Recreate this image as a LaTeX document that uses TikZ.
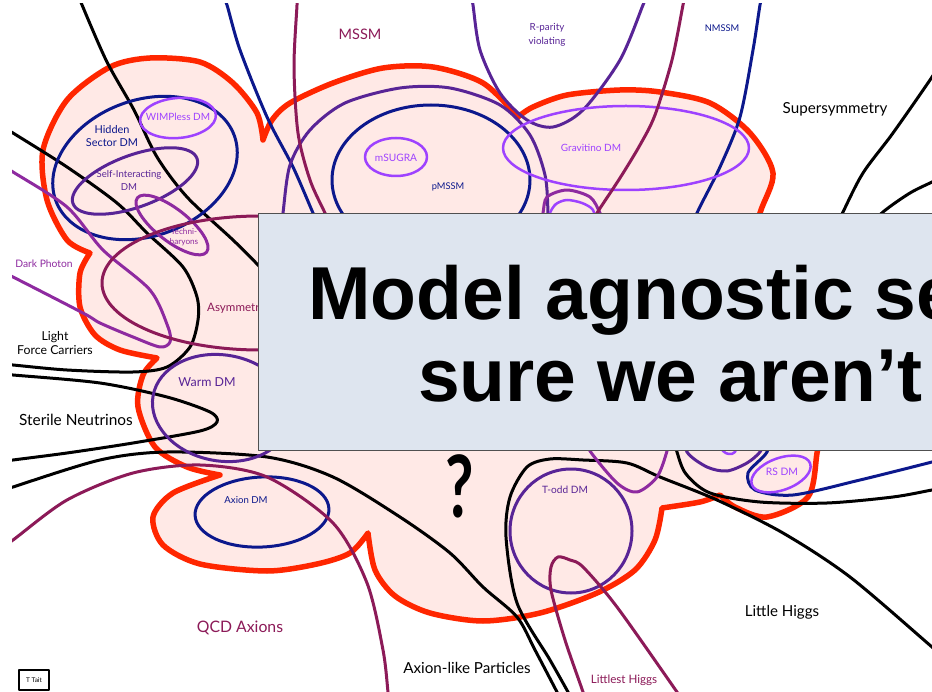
\documentclass[tikz,border=0pt]{standalone}
\usepackage{fontspec}
\setmainfont{Lato}
\newfontfamily\boxfont{Liberation Sans}
\definecolor{redline}{RGB}{255,38,0}
\definecolor{blobfill}{RGB}{255,233,230}
\definecolor{navyc}{RGB}{12,24,140}
\definecolor{purplec}{RGB}{88,36,150}
\definecolor{violetc}{RGB}{158,66,255}
\definecolor{magentac}{RGB}{142,42,160}
\definecolor{maroonc}{RGB}{140,26,88}
\definecolor{boxfill}{RGB}{222,229,239}
\definecolor{boxline}{RGB}{80,80,80}
\tikzset{
  curve/.style={line width=3pt},
  blk/.style={curve, draw=black},
  nav/.style={curve, draw=navyc},
  pur/.style={curve, draw=purplec},
  vio/.style={line width=2.5pt, draw=violetc},
  mag/.style={curve, draw=magentac},
  mar/.style={curve, draw=maroonc},
  lab/.style={inner sep=0pt, align=center},
  fs/.style={font=\fontsize{#1}{13}\selectfont},
  big/.style={font=\fontsize{#1}{14}\selectfont},
}
\begin{document}
\begin{tikzpicture}[x=1pt,y=-1pt,line join=round,line cap=round]
\useasboundingbox (0,0) rectangle (932,692);
\fill[white] (0,0) rectangle (932,692);
\begin{scope}
\clip (12,4) rectangle (932,692);
% ---------- blob ----------
\draw[fill=blobfill, draw=redline, line width=5.5pt]
  plot[smooth] coordinates {(90,253) (67,240) (47,200) (43,150) (67,100) (110,67) (150,58) (200,62) (233,83) (257,113) (263,140)}
  -- plot[smooth] coordinates {(263,140) (272,120) (290,103) (333,83) (383,68) (433,67) (483,83) (518,117)}
  -- plot[smooth] coordinates {(518,117) (533,107) (567,95) (620,90) (660,92) (710,103) (750,133) (773,173) (760,213) (748,260) (765,330) (805,390) (820,430) (817,453) (808,497) (767,517) (735,507) (720,495)}
  -- plot[smooth] coordinates {(720,495) (700,502) (662,508)}
  -- plot[smooth] coordinates {(662,508) (655,540) (635,570) (597,593) (540,613) (483,621) (430,613) (395,596) (375,570) (368,533)}
  -- plot[smooth] coordinates {(368,533) (350,553) (317,564) (267,571) (200,564) (163,545) (153,517) (173,493) (220,475)}
  -- plot[smooth] coordinates {(220,475) (187,467) (155,447) (138,407) (143,375) (157,358)}
  -- plot[smooth] coordinates {(157,358) (120,350) (95,335) (80,307) (80,273) (90,253)}
  -- cycle;
% ---------- black ----------
\draw[blk] plot[smooth] coordinates {(80,0) (106,60) (134,110) (157,157) (187,197) (233,240) (258,265) (290,300)};
\draw[blk] plot[smooth] coordinates {(0,125) (13,133) (67,167) (117,203) (147,233) (183,267) (197,297) (198,320) (190,347) (167,367) (133,372) (67,370) (13,365) (0,364)};
\draw[blk] plot[smooth] coordinates {(0,374) (13,375) (100,383) (167,397) (210,412) (217,422) (200,431) (133,443) (67,453) (13,460) (0,462)};
\draw[blk] plot[smooth] coordinates {(0,492) (13,487) (100,460) (167,452) (267,457) (333,477) (400,517) (450,553) (483,587) (517,617) (535,650) (557,692) (561,700)};
\draw[blk] plot[smooth] coordinates {(572,700) (568,692) (550,660) (517,603) (506,537) (510,497) (527,467) (550,459) (583,460) (627,463) (660,477) (717,500) (783,533) (850,577) (932,647) (945,658)};
\draw[blk] plot[smooth] coordinates {(672,430) (677,452) (686,474) (710,493) (760,502) (827,503) (893,497) (932,490) (945,488)};
\draw[blk] plot[smooth] coordinates {(945,55) (932,77) (893,133) (863,173) (843,212) (830,240)};
\draw[blk] plot[smooth] coordinates {(945,175) (932,182) (910,193) (883,212) (860,235)};
% ---------- navy ----------
\draw[nav] plot[smooth] coordinates {(224,0) (227,5) (240,50) (267,117) (293,167) (313,213) (325,240)};
\draw[nav] plot[smooth] coordinates {(762,0) (760,5) (753,50) (740,117) (720,167) (697,213) (690,235)};
\draw[nav, rotate around={20:(145,168)}] (145,168) ellipse [x radius=95, y radius=68];
\draw[nav] (431,180) ellipse [x radius=99, y radius=75];
\draw[nav, rotate around={3:(262,512)}] (262,512) ellipse [x radius=67, y radius=35];
\draw[nav] plot[smooth] coordinates {(770,430) (767,452) (748,473) (755,490) (793,495) (860,480) (932,462) (945,458)};
% ---------- purple ----------
\draw[pur] plot[smooth] coordinates {(472,0) (473,5) (480,50) (500,93) (527,120) (553,127) (583,110) (620,60) (643,5) (645,0)};
\draw[pur] plot[smooth] coordinates {(280,240) (283,213) (290,165) (310,130) (345,103) (400,88) (450,88) (500,105) (530,135) (545,175) (548,213) (548,240)};
\draw[pur, rotate around={20:(135,181)}] (135,181) ellipse [x radius=66, y radius=26];
\draw[pur, rotate around={-10:(222,408)}] (222,408) ellipse [x radius=70, y radius=53];
\draw[pur] (571,531) ellipse [x radius=61, y radius=62];
\draw[pur] plot[smooth] coordinates {(685,430) (687,452) (707,467) (727,471) (747,463) (760,452) (765,440)};
% ---------- violet ----------
\draw[vio, rotate around={5:(178,118)}] (178,118) ellipse [x radius=38, y radius=20];
\draw[vio] (396,157) ellipse [x radius=31, y radius=19];
\draw[vio] (626,148) ellipse [x radius=123, y radius=42];
\draw[vio, rotate around={20:(781,474)}] (781,474) ellipse [x radius=31, y radius=16];
\draw[vio] plot[smooth] coordinates {(548,225) (550,213) (556,204) (567,200) (582,203) (593,210) (596,225)};
\draw[vio] plot[smooth] coordinates {(718,440) (723,451) (729,454) (735,452) (738,440)};
% ---------- magenta ----------
\draw[mag, rotate around={-38:(172,225)}] (172,225) ellipse [x radius=44, y radius=16];
\draw[mag] plot[smooth] coordinates {(0,164) (13,172) (67,207) (103,250) (150,290) (168,327) (170,342) (160,347) (133,337) (100,323) (83,313) (13,277) (0,271)};
\draw[mag] plot[smooth] coordinates {(540,225) (543,213) (547,197) (567,190) (590,197) (600,213) (603,225)};
\draw[mag] plot[smooth] coordinates {(588,440) (590,451) (617,483) (637,492) (657,477) (667,451) (668,440)};
% ---------- maroon ----------
\draw[mar] plot[smooth] coordinates {(297,0) (297,5) (294,67) (298,133) (310,180) (325,213) (335,235)};
\draw[mar] plot[smooth] coordinates {(684,0) (683,5) (672,60) (655,115) (640,145) (620,178) (597,213) (585,235)};
\draw[mar] (260,283) ellipse [x radius=158, y radius=67];
\draw[mar] plot[smooth] coordinates {(0,548) (13,540) (67,500) (133,473) (200,465) (267,477) (333,523) (367,583) (383,650) (388,692) (389,700)};
\draw[mar] plot[smooth] coordinates {(585,700) (583,692) (565,640) (551,590) (551,567) (558,557) (570,560) (583,567) (617,607) (677,692) (682,700)};
\end{scope}
% ---------- labels ----------
\node[lab, big=14.5, text=maroonc] (mssm) at (360,34) {MSSM};
\node[lab, font=\fontsize{9.8}{14}\selectfont, text=purplec] (rpv) at (547,35) {R-parity\\violating};
\node[lab, fs=9.3, text=navyc] (nmssm) at (722,28) {NMSSM};
\node[lab, big=15.2] (susy) at (835,109) {Supersymmetry};
\node[lab, fs=10.9, text=navyc] (hidden) at (112,136) {Hidden\\Sector DM};
\node[lab, fs=10, text=violetc] (wimpless) at (178,117) {WIMPless DM};
\node[lab, fs=9.6, text=purplec] (sidm) at (129,180) {Self-Interacting\\DM};
\node[lab, font=\fontsize{8.2}{10}\selectfont, text=magentac] (techni) at (184,237) {Techni-\\baryons};
\node[lab, fs=10.2, text=violetc] (msugra) at (396,158) {mSUGRA};
\node[lab, fs=9.3, text=navyc] (pmssm) at (448,187) {pMSSM};
\node[lab, fs=10, text=violetc] (gravitino) at (591,148) {Gravitino DM};
\node[lab, fs=10.3, text=magentac] (darkph) at (44,264) {Dark Photon};
\node[lab, fs=11.6, anchor=west, text=maroonc] (asym) at (207,308) {Asymmetr};
\node[lab, font=\fontsize{12.3}{14}\selectfont] (light) at (55,343) {Light\\Force Carriers};
\node[lab, fs=12.4, text=purplec] (warm) at (207,382) {Warm DM};
\node[lab, big=15.4] (sterile) at (76,420) {Sterile Neutrinos};
\node[lab, fs=9.6, text=navyc] (axiondm) at (246,500) {Axion DM};
\node[lab, fs=10.1, text=purplec] (todd) at (565,490) {T-odd DM};
\node[lab, fs=10.3, text=violetc] (rsdm) at (782,472) {RS DM};
\node[lab, big=15.8, text=maroonc] (qcd) at (240,628) {QCD Axions};
\node[lab, big=15.2] (alp) at (467,668) {Axion-like Particles};
\node[lab, big=15.1] (lh) at (782,612) {Little Higgs};
\node[lab, fs=11.6, text=maroonc] (lest) at (624,680) {Littlest Higgs};
\node[lab, font=\bfseries\fontsize{86}{86}\selectfont] (qm) at (460,486) {\scalebox{0.72}[1]{?}};
\node[draw=black, line width=1.5pt, minimum width=30pt, minimum height=20pt, inner sep=0pt, font=\fontsize{6.5}{7}\selectfont] (tait) at (34,680) {T Tait};
% ---------- overlay box ----------
\begin{scope}
\clip (0,0) rectangle (932,692);
\draw[fill=boxfill, draw=boxline, line width=1pt] (258,214) rectangle (960,451);
\node[inner sep=0pt, anchor=base west, font=\boxfont\bfseries\fontsize{75}{80}\selectfont] (l1) at (308,320) {Model agnostic se};
\node[inner sep=0pt, anchor=base west, font=\boxfont\bfseries\fontsize{75}{80}\selectfont] (l2) at (418,402) {sure we aren’t};
\end{scope}
\end{tikzpicture}
\end{document}
